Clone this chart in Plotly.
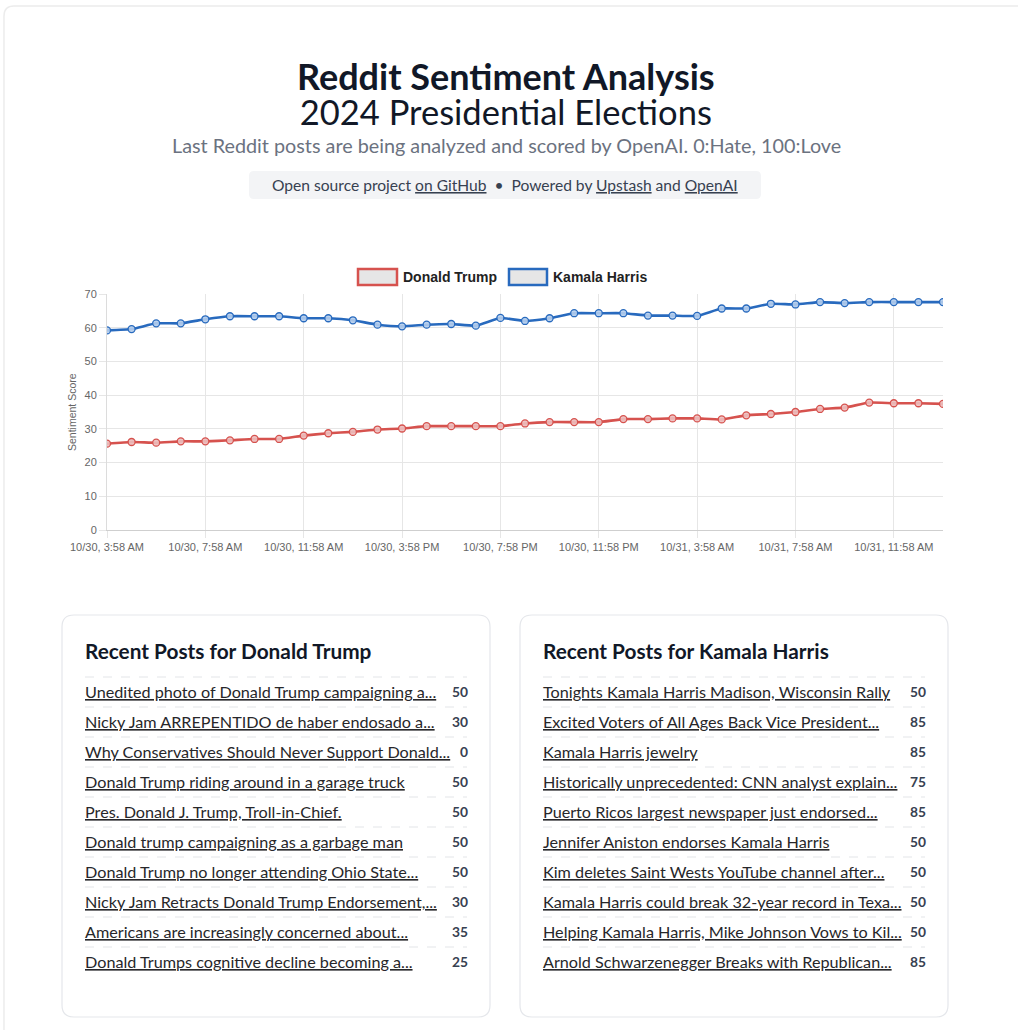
import pandas as pd
import plotly.graph_objects as go

# ---------------- data ----------------
start_time = "2024-10-30 03:58"
n_points = 35
trump_scores = [25.6, 26.1, 25.9, 26.3, 26.3, 26.6, 27.0, 27.0, 28.0, 28.7, 29.1, 29.8,
                30.1, 30.8, 30.8, 30.8, 30.8, 31.6, 32.0, 32.0, 32.0, 32.9, 32.9, 33.1,
                33.1, 32.8, 34.0, 34.4, 35.0, 35.9, 36.3, 37.8, 37.6, 37.6, 37.4]
harris_scores = [59.2, 59.6, 61.3, 61.3, 62.5, 63.4, 63.4, 63.4, 62.8, 62.8, 62.2, 60.9,
                 60.4, 60.9, 61.1, 60.6, 62.9, 62.0, 62.8, 64.3, 64.3, 64.3, 63.6, 63.6,
                 63.5, 65.7, 65.7, 67.1, 66.9, 67.6, 67.3, 67.6, 67.6, 67.6, 67.6]
series_names = ["Donald Trump", "Kamala Harris"]
y_ticks = [0, 10, 20, 30, 40, 50, 60, 70]

trump_posts = ["Unedited photo of Donald Trump campaigning a...",
               "Nicky Jam ARREPENTIDO de haber endosado a...",
               "Why Conservatives Should Never Support Donald...",
               "Donald Trump riding around in a garage truck",
               "Pres. Donald J. Trump, Troll-in-Chief.",
               "Donald trump campaigning as a garbage man",
               "Donald Trump no longer attending Ohio State...",
               "Nicky Jam Retracts Donald Trump Endorsement,...",
               "Americans are increasingly concerned about...",
               "Donald Trumps cognitive decline becoming a..."]
trump_post_scores = [50, 30, 0, 50, 50, 50, 50, 30, 35, 25]
harris_posts = ["Tonights Kamala Harris Madison, Wisconsin Rally",
                "Excited Voters of All Ages Back Vice President...",
                "Kamala Harris jewelry",
                "Historically unprecedented: CNN analyst explain...",
                "Puerto Ricos largest newspaper just endorsed...",
                "Jennifer Aniston endorses Kamala Harris",
                "Kim deletes Saint Wests YouTube channel after...",
                "Kamala Harris could break 32-year record in Texa...",
                "Helping Kamala Harris, Mike Johnson Vows to Kil...",
                "Arnold Schwarzenegger Breaks with Republican..."]
harris_post_scores = [50, 85, 85, 75, 85, 50, 50, 50, 50, 85]

times = pd.date_range(start_time, periods=n_points, freq="h")

# ---------------- geometry helpers (page pixels -> paper) ----------------
W, H = 1018, 1030


def fx(x):
    return x / W


def fy(y):
    return 1 - y / H


def rrect_path(x0, y0, x1, y1, r):
    pts = [
        ("M", [(x0 + r, y0)]), ("L", [(x1 - r, y0)]), ("Q", [(x1, y0), (x1, y0 + r)]),
        ("L", [(x1, y1 - r)]), ("Q", [(x1, y1), (x1 - r, y1)]), ("L", [(x0 + r, y1)]),
        ("Q", [(x0, y1), (x0, y1 - r)]), ("L", [(x0, y0 + r)]), ("Q", [(x0, y0), (x0 + r, y0)]),
    ]
    s = ""
    for cmd, ps in pts:
        s += cmd + " " + " ".join(f"{fx(a):.6f},{fy(b):.6f}" for a, b in ps) + " "
    return s + "Z"


RED = "rgb(214,82,78)"
BLUE = "rgb(40,106,190)"
UI_FONT = "Lato"
CHART_FONT = "Liberation Sans, Arial"

fig = go.Figure()
fig.add_trace(go.Scatter(
    x=times, y=trump_scores, name=series_names[0], mode="lines+markers",
    line=dict(color=RED, width=2.6, shape="spline", smoothing=0.4),
    marker=dict(size=7, color="rgba(236,190,190,0.9)", line=dict(color=RED, width=1.3)),
    showlegend=False))
fig.add_trace(go.Scatter(
    x=times, y=harris_scores, name=series_names[1], mode="lines+markers",
    line=dict(color=BLUE, width=2.6, shape="spline", smoothing=0.4),
    marker=dict(size=7, color="rgba(180,205,236,0.9)", line=dict(color=BLUE, width=1.3)),
    showlegend=False))

shapes = []
annotations = []

# outer page frame
shapes.append(dict(type="path", path=rrect_path(4, 6, 1040, 1060, 10), xref="paper", yref="paper",
                   line=dict(color="#ececec", width=1.5), fillcolor="rgba(0,0,0,0)", layer="below"))

# ---------------- header ----------------
annotations += [
    dict(text="<span style='font-size:36px'><b>Reddit Sentiment Analysis</b></span><br>"
              "<span style='font-size:34.5px'>2024 Presidential Elections</span>",
         x=fx(506), y=fy(93), font=dict(size=27, color="#111827", family=UI_FONT)),
    dict(text="Last Reddit posts are being analyzed and scored by OpenAI. 0:Hate, 100:Love",
         x=fx(506), y=fy(145), font=dict(size=19.8, color="#6b7280", family=UI_FONT)),
    dict(text="Open source project <u>on GitHub</u>  •  Powered by <u>Upstash</u> and <u>OpenAI</u>",
         x=fx(505), y=fy(185), font=dict(size=15.6, color="#374151", family=UI_FONT)),
]
shapes.append(dict(type="path", path=rrect_path(249, 171, 761, 199, 5), xref="paper", yref="paper",
                   line=dict(width=0), fillcolor="#f3f4f6", layer="below"))

# ---------------- custom legend ----------------
legend_items = [(358, 397, 401, series_names[0], RED), (509, 547, 551, series_names[1], BLUE)]
for bx0, bx1, tx, name, col in legend_items:
    shapes.append(dict(type="rect", x0=fx(bx0), x1=fx(bx1), y0=fy(285), y1=fy(269), xref="paper", yref="paper",
                       line=dict(color=col, width=2.5), fillcolor="#e6e6e6"))
    annotations.append(dict(text=f"<b>{name}</b>", x=fx(tx), y=fy(277), xanchor="left",
                            font=dict(size=14, color="#222", family=CHART_FONT)))

# y axis title
annotations.append(dict(text="Sentiment Score", x=fx(72), y=fy(412), textangle=-90,
                        font=dict(size=10.5, color="#666", family=CHART_FONT)))

# ---------------- post cards ----------------
cards = [(62, 490, "Donald Trump", trump_posts, trump_post_scores),
         (520, 948, "Kamala Harris", harris_posts, harris_post_scores)]
for cx0, cx1, who, posts, scores in cards:
    shapes.append(dict(type="path", path=rrect_path(cx0, 615, cx1, 1017, 12), xref="paper", yref="paper",
                       line=dict(color="#e5e7eb", width=1.2), fillcolor="white", layer="below"))
    lx0, lx1 = cx0 + 23, cx1 - 23
    annotations.append(dict(text=f"<b>Recent Posts for {who}</b>", x=fx(lx0 - 2), y=fy(650), xanchor="left",
                            font=dict(size=20.8, color="#111827", family=UI_FONT)))
    for i, (p, s) in enumerate(zip(posts, scores)):
        ly = 677 + 30 * i
        shapes.append(dict(type="line", x0=fx(lx0), x1=fx(lx1), y0=fy(ly), y1=fy(ly), xref="paper", yref="paper",
                           line=dict(color="#e3e5e8", width=1, dash="dash")))
        annotations.append(dict(text=f"<u>{p}</u>", x=fx(lx0 - 2), y=fy(ly + 14.5), xanchor="left",
                                font=dict(size=16.2, color="#27272a", family=UI_FONT)))
        annotations.append(dict(text=f"<b>{s}</b>", x=fx(lx1 + 3), y=fy(ly + 14.5), xanchor="right",
                                font=dict(size=13.8, color="#374151", family=UI_FONT)))

for a in annotations:
    a.setdefault("xref", "paper")
    a.setdefault("yref", "paper")
    a.setdefault("showarrow", False)
    a.setdefault("xanchor", "center")
    a.setdefault("yanchor", "middle")

fig.update_layout(
    width=W, height=H, margin=dict(l=0, r=0, t=0, b=0, autoexpand=False),
    paper_bgcolor="white", plot_bgcolor="white",
    shapes=shapes, annotations=annotations,
    xaxis=dict(domain=[fx(107), fx(943)], range=[times[0], times[-1]], automargin=False,
               tickformat="%m/%d, %-I:%M %p", dtick=4 * 3600 * 1000, tick0=times[0],
               showgrid=True, gridcolor="#e6e6e6", gridwidth=1,
               ticks="outside", ticklen=7, tickcolor="#e6e6e6",
               showline=True, linecolor="#cfcfcf", zeroline=False,
               tickfont=dict(size=11, color="#666", family=CHART_FONT)),
    yaxis=dict(domain=[fy(530), fy(294)], range=[0, 70], tickvals=y_ticks, automargin=False,
               showgrid=True, gridcolor="#e6e6e6", gridwidth=1,
               ticks="outside", ticklen=7, tickcolor="#e6e6e6",
               showline=True, linecolor="#dcdcdc", zeroline=False,
               tickfont=dict(size=11, color="#666", family=CHART_FONT)),
    hovermode=False,
)

fig.write_html("out.html", config={"displayModeBar": False},
               post_script="document.body.style.margin='0';")
